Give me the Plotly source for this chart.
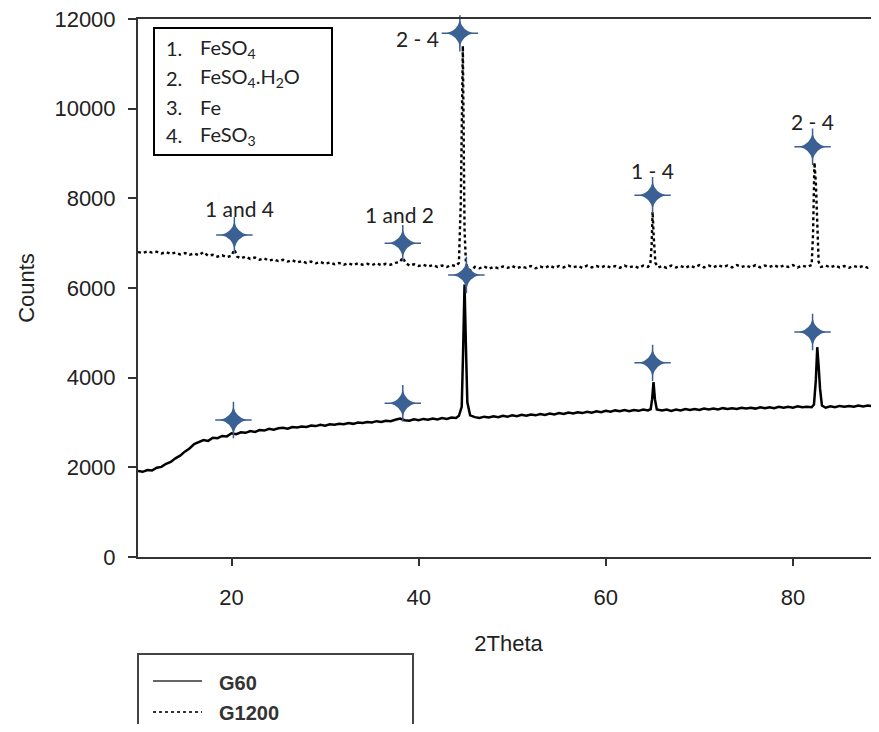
import plotly.graph_objects as go

# ---------------- data ----------------
g60_theta = [
    10.0, 10.5, 11.0, 11.5, 12.0, 12.5, 13.0, 13.5, 14.0, 14.5, 15.0, 15.5, 16.0, 16.5,
    17.0, 17.5, 18.0, 18.5, 19.0, 19.5, 20.0, 20.5, 21.0, 21.5, 22.0, 22.5, 23.0, 23.5,
    24.0, 24.5, 25.0, 25.5, 26.0, 26.5, 27.0, 27.5, 28.0, 28.5, 29.0, 29.5, 30.0, 30.5,
    31.0, 31.5, 32.0, 32.5, 33.0, 33.5, 34.0, 34.5, 35.0, 35.5, 36.0, 36.5, 37.0, 37.5,
    38.0, 38.5, 39.0, 39.5, 40.0, 40.5, 41.0, 41.5, 42.0, 42.5, 43.0, 43.5, 44.0,
    44.3, 44.6, 44.75, 44.9, 45.05, 45.2, 45.5,
    46.0, 46.5, 47.0, 47.5, 48.0, 48.5, 49.0, 49.5, 50.0, 50.5, 51.0, 51.5, 52.0, 52.5,
    53.0, 53.5, 54.0, 54.5, 55.0, 55.5, 56.0, 56.5, 57.0, 57.5, 58.0, 58.5, 59.0, 59.5,
    60.0, 60.5, 61.0, 61.5, 62.0, 62.5, 63.0, 63.5, 64.0, 64.5,
    64.8, 64.95, 65.1, 65.25, 65.45,
    66.0, 66.5, 67.0, 67.5, 68.0, 68.5, 69.0, 69.5, 70.0, 70.5, 71.0, 71.5, 72.0, 72.5,
    73.0, 73.5, 74.0, 74.5, 75.0, 75.5, 76.0, 76.5, 77.0, 77.5, 78.0, 78.5, 79.0, 79.5,
    80.0, 80.5, 81.0, 81.5, 82.0,
    82.25, 82.45, 82.6, 82.75, 82.9, 83.1,
    83.5, 84.0, 84.5, 85.0, 85.5, 86.0, 86.5, 87.0, 87.5, 88.0, 88.5, 89.0, 89.5,
]
g60_counts = [
    1920, 1900, 1940, 1930, 1990, 2010, 2080, 2120, 2200, 2260, 2350, 2420, 2520, 2560,
    2610, 2590, 2660, 2650, 2700, 2690, 2760, 2740, 2780, 2770, 2810, 2790, 2830, 2820,
    2860, 2840, 2870, 2880, 2860, 2900, 2890, 2910, 2900, 2930, 2920, 2950, 2930, 2960,
    2950, 2970, 2960, 2990, 2970, 3000, 2990, 3010, 3000, 3030, 3010, 3040, 3030, 3060,
    3090, 3050, 3040, 3070, 3050, 3080, 3060, 3090, 3070, 3100, 3080, 3110, 3100,
    3150, 3350, 4600, 6080, 4700, 3450, 3160,
    3120, 3100, 3130, 3110, 3140, 3120, 3150, 3130, 3160, 3140, 3170, 3150, 3180, 3160,
    3190, 3170, 3200, 3180, 3210, 3190, 3220, 3200, 3230, 3210, 3240, 3220, 3250, 3230,
    3260, 3240, 3270, 3250, 3280, 3250, 3280, 3260, 3290, 3270,
    3300, 3520, 3900, 3520, 3290,
    3270, 3290, 3260, 3290, 3270, 3300, 3280, 3300, 3280, 3310, 3290, 3310, 3290, 3320,
    3300, 3320, 3300, 3330, 3310, 3330, 3310, 3340, 3320, 3340, 3320, 3350, 3330, 3350,
    3330, 3360, 3340, 3350, 3340,
    3400, 3950, 4680, 4250, 3750, 3380,
    3330, 3360, 3340, 3370, 3350, 3370, 3350, 3380, 3360, 3380, 3360, 3390, 3370,
]

g1200_theta = [
    10.0, 10.5, 11.0, 11.5, 12.0, 12.5, 13.0, 13.5, 14.0, 14.5, 15.0, 15.5, 16.0, 16.5,
    17.0, 17.5, 18.0, 18.5, 19.0, 19.5, 20.0, 20.3, 20.6, 21.0, 21.5, 22.0, 22.5, 23.0,
    23.5, 24.0, 24.5, 25.0, 25.5, 26.0, 26.5, 27.0, 27.5, 28.0, 28.5, 29.0, 29.5, 30.0,
    30.5, 31.0, 31.5, 32.0, 32.5, 33.0, 33.5, 34.0, 34.5, 35.0, 35.5, 36.0, 36.5, 37.0,
    37.5, 38.0, 38.3, 38.6, 39.0, 39.5, 40.0, 40.5, 41.0, 41.5, 42.0, 42.5, 43.0, 43.5, 44.0,
    44.3, 44.5, 44.62, 44.72, 44.8, 44.9, 45.05,
    45.3, 45.6, 46.0, 46.5, 47.0, 47.5, 48.0, 48.5, 49.0, 49.5, 50.0, 50.5, 51.0, 51.5,
    52.0, 52.5, 53.0, 53.5, 54.0, 54.5, 55.0, 55.5, 56.0, 56.5, 57.0, 57.5, 58.0, 58.5,
    59.0, 59.5, 60.0, 60.5, 61.0, 61.5, 62.0, 62.5, 63.0, 63.5, 64.0, 64.5,
    64.75, 64.9, 65.0, 65.12, 65.3,
    65.6, 66.0, 66.5, 67.0, 67.5, 68.0, 68.5, 69.0, 69.5, 70.0, 70.5, 71.0, 71.5, 72.0,
    72.5, 73.0, 73.5, 74.0, 74.5, 75.0, 75.5, 76.0, 76.5, 77.0, 77.5, 78.0, 78.5, 79.0,
    79.5, 80.0, 80.5, 81.0, 81.5, 82.0,
    82.15, 82.3, 82.45, 82.6, 82.75,
    83.0, 83.5, 84.0, 84.5, 85.0, 85.5, 86.0, 86.5, 87.0, 87.5, 88.0, 88.5, 89.0, 89.5,
]
g1200_counts = [
    6800, 6780, 6820, 6790, 6810, 6770, 6800, 6760, 6790, 6750, 6780, 6740, 6770, 6730,
    6800, 6720, 6740, 6700, 6730, 6690, 6720, 6860, 6700, 6660, 6700, 6650, 6680, 6630,
    6660, 6610, 6640, 6600, 6630, 6590, 6620, 6570, 6600, 6560, 6590, 6550, 6580, 6540,
    6570, 6530, 6560, 6520, 6550, 6510, 6550, 6520, 6540, 6510, 6550, 6510, 6540, 6520,
    6560, 6580, 6680, 6560, 6500, 6530, 6490, 6520, 6480, 6510, 6470, 6500, 6470, 6510, 6490,
    6560, 7900, 10200, 11400, 9600, 7300, 6550,
    6420, 6380, 6470, 6440, 6480, 6430, 6470, 6440, 6480, 6450, 6490, 6440, 6480, 6450,
    6490, 6440, 6480, 6450, 6500, 6450, 6490, 6460, 6500, 6460, 6490, 6450, 6500, 6460,
    6490, 6460, 6500, 6460, 6490, 6450, 6500, 6460, 6490, 6450, 6500, 6470,
    6520, 6950, 7700, 7150, 6560,
    6460, 6490, 6450, 6500, 6460, 6490, 6450, 6500, 6460, 6510, 6460, 6500, 6460, 6510,
    6470, 6500, 6460, 6510, 6470, 6500, 6460, 6510, 6460, 6500, 6470, 6510, 6460, 6500,
    6470, 6510, 6460, 6500, 6470, 6510,
    7200, 8800, 8350, 7200, 6580,
    6470, 6500, 6460, 6500, 6460, 6490, 6450, 6490, 6460, 6490, 6450, 6480, 6460, 6480,
]

# peak-marker stars
g1200_star_theta = [20.3, 38.3, 44.4, 65.0, 82.1]
g1200_star_counts = [7180, 7000, 11680, 8070, 9150]
g60_star_theta = [20.2, 38.3, 45.1, 65.0, 82.1]
g60_star_counts = [3055, 3430, 6290, 4330, 5020]

# peak labels
peak_label_text = ["1 and 4", "1 and 2", "2 - 4", "1 - 4", "2 - 4"]
peak_label_theta = [20.9, 38.0, 39.9, 65.0, 82.1]
peak_label_counts = [7780, 7630, 11560, 8630, 9720]

phase_numbers = ["1.", "2.", "3.", "4."]
phase_names = ["FeSO<sub>4</sub>", "FeSO<sub>4</sub>.H<sub>2</sub>O", "Fe", "FeSO<sub>3</sub>"]

series_names = ["G60", "G1200"]

y_ticks = [0, 2000, 4000, 6000, 8000, 10000, 12000]
y_tick_text = ["0", "2000", "4000", "6000", "8000", "10000", "12000"]
x_ticks = [20, 40, 60, 80]

# ---------------- figure ----------------
OFF = 8                      # page body margin of the html page
W, H = 879 - OFF, 732 - 2 * OFF
L, R, T = 138 - OFF, 0, 19 - OFF
B = H - (557 - OFF)
pw, ph = W - L - R, H - T - B


def px(x):   # page pixel -> paper x
    return (x - OFF - L) / pw


def py(y):   # page pixel -> paper y
    return (H - B - (y - OFF)) / ph


AX = "#333333"
STAR = "#3a6094"
SANS = "Liberation Sans, Arial, sans-serif"
CAL = "Lato, Open Sans, sans-serif"

fig = go.Figure()
fig.add_trace(go.Scatter(x=g60_theta, y=g60_counts, mode="lines", name=series_names[0],
                         line=dict(color="black", width=2.5), showlegend=False))
fig.add_trace(go.Scatter(x=g1200_theta, y=g1200_counts, mode="lines", name=series_names[1],
                         line=dict(color="black", width=2.4, dash="dot"), showlegend=False))
for sx, sy in [(g1200_star_theta, g1200_star_counts), (g60_star_theta, g60_star_counts)]:
    # sparkle: thin cross arms + four-point star core
    fig.add_trace(go.Scatter(x=sx, y=sy, mode="markers", showlegend=False, cliponaxis=False,
                             marker=dict(symbol="cross-thin", size=26,
                                         line=dict(width=1.5, color=STAR))))
    fig.add_trace(go.Scatter(x=sx, y=sy, mode="markers", showlegend=False, cliponaxis=False,
                             marker=dict(symbol="star-diamond", size=19, color=STAR,
                                         line=dict(width=0))))

for t, x, y in zip(peak_label_text, peak_label_theta, peak_label_counts):
    fig.add_annotation(x=x, y=y, text=t, showarrow=False,
                       font=dict(family=CAL, size=21, color="#222222"))

# phase key box (top-left)
fig.add_shape(type="rect", xref="paper", yref="paper",
              x0=px(154), x1=px(332), y0=py(155), y1=py(28),
              line=dict(color="black", width=2), fillcolor="white", layer="above")
row_y = [48, 78, 107, 135]
for num, name, ry in zip(phase_numbers, phase_names, row_y):
    fig.add_annotation(xref="paper", yref="paper", x=px(164), y=py(ry), text=num,
                       showarrow=False, xanchor="left", yanchor="middle",
                       font=dict(family=CAL, size=20, color="#222222"))
    fig.add_annotation(xref="paper", yref="paper", x=px(198), y=py(ry), text=name,
                       showarrow=False, xanchor="left", yanchor="middle",
                       font=dict(family=CAL, size=20, color="#222222"))

# series key box (bottom)
fig.add_shape(type="rect", xref="paper", yref="paper",
              x0=px(138), x1=px(413), y0=py(745), y1=py(654),
              line=dict(color="#444444", width=2))
fig.add_shape(type="line", xref="paper", yref="paper",
              x0=px(153), x1=px(202), y0=py(681), y1=py(681),
              line=dict(color="#333333", width=1.5))
fig.add_shape(type="line", xref="paper", yref="paper",
              x0=px(153), x1=px(202), y0=py(712), y1=py(712),
              line=dict(color="#333333", width=2, dash="dot"))
for name, ry in zip(series_names, [683, 713]):
    fig.add_annotation(xref="paper", yref="paper", x=px(217), y=py(ry),
                       text="<b>" + name + "</b>", showarrow=False,
                       xanchor="left", yanchor="middle",
                       font=dict(family=SANS, size=20, color="#333333"))

fig.update_layout(
    width=W, height=H,
    margin=dict(l=L, r=R, t=T, b=B, pad=0, autoexpand=False),
    paper_bgcolor="white", plot_bgcolor="white",
    font=dict(family=SANS, color="#222222"),
    xaxis=dict(range=[10, 89.2], tickvals=x_ticks, ticks="outside", ticklen=7,
               tickwidth=2, tickcolor=AX, showline=True, linecolor=AX, linewidth=2,
               mirror=True, showgrid=False, zeroline=False, ticklabelstandoff=13,
               ticklabeloverflow="allow",
               tickfont=dict(family=SANS, size=22, color="#222222"),
               title=dict(text="2Theta", font=dict(family=SANS, size=22, color="#222222"),
                          standoff=26)),
    yaxis=dict(range=[0, 12000], tickvals=y_ticks, ticktext=y_tick_text, ticks="outside",
               ticklen=8, tickwidth=2, tickcolor=AX, showline=True, linecolor=AX,
               linewidth=2, showgrid=False, zeroline=False, ticklabelstandoff=8,
               ticklabeloverflow="allow",
               tickfont=dict(family=SANS, size=22, color="#222222"),
               title=dict(text="Counts", font=dict(family=SANS, size=22, color="#222222"),
                          standoff=14)),
)

fig.write_html("out.html")
